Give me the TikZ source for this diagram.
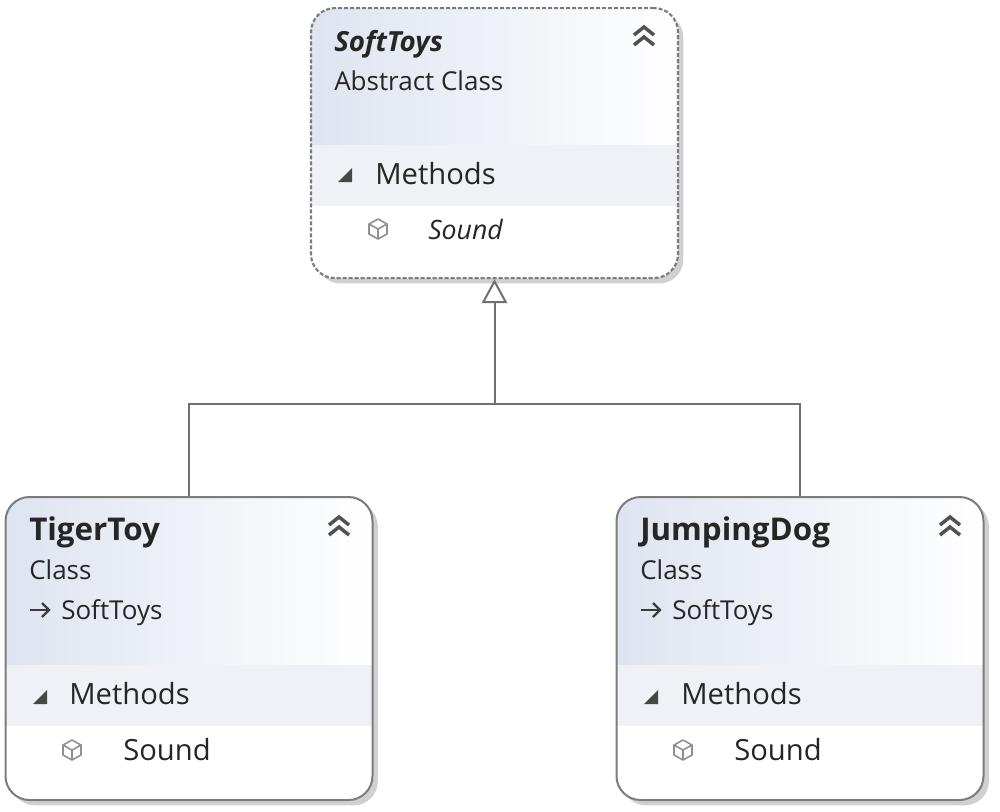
\documentclass[tikz,border=0pt]{standalone}
\usepackage{fontspec}
\setmainfont{Open Sans}
\usetikzlibrary{arrows.meta,shadows}
\definecolor{ink}{HTML}{262626}
\definecolor{edge}{HTML}{7C7C7C}
\definecolor{gradL}{HTML}{DEE4F0}
\definecolor{gradM}{HTML}{EEF1F7}
\definecolor{band}{HTML}{EFF1F7}
\definecolor{shadowc}{HTML}{D0D0D0}
\definecolor{iconc}{HTML}{8F8F8F}
\tikzset{
  x=0.75pt,y=-0.75pt,
  umlbox/.style={draw=edge,line width=1.5pt,rounded corners=18pt,minimum width=275.25pt,
    inner sep=0pt,fill=white,
    drop shadow={shadow xshift=4pt,shadow yshift=-4pt,fill=shadowc,opacity=1}},
  abstractbox/.style={umlbox,dash pattern=on 3pt off 1.5pt,line width=1.6pt},
  titletext/.style={anchor=base west,inner sep=0pt,text=ink,font=\fontsize{23.5}{26}\selectfont\bfseries},
  subtext/.style={anchor=base west,inner sep=0pt,text=ink,font=\fontsize{19.5}{22}\selectfont},
  membertext/.style={anchor=base west,inner sep=0pt,text=ink,font=\fontsize{21.9}{25}\selectfont},
  connector/.style={draw=edge!90!black,line width=1.5pt},
  inherit/.style={connector,-{Triangle[open,fill=white,length=18pt,width=19pt]}},
  chevron/.style={draw=ink!80,line width=2.6pt,line join=miter},
  cube/.style={draw=iconc,line width=1.2pt,line join=round},
  tri/.style={fill=ink!85,draw=none},
  smallarrow/.style={draw=ink!90,line width=1.8pt}
}
% #1 style, #2 name, #3 centre x, #4 top y, #5 height px, #6 header height px
\newcommand{\umlclass}[6]{%
  \node[#1,minimum height=#5*0.75pt,anchor=north,
    path picture={
      \shade[sharp corners,left color=gradL,middle color=gradM,right color=white]
        (path picture bounding box.north west) rectangle ([yshift=-#6*0.75pt]path picture bounding box.north east);
      \fill[sharp corners,band] ([yshift=-#6*0.75pt]path picture bounding box.north west) rectangle ([yshift=-#6*0.75pt-45.75pt]path picture bounding box.north east);
      \fill[sharp corners,white] ([yshift=-#6*0.75pt-45.75pt]path picture bounding box.north west) rectangle (path picture bounding box.south east);
    }] (#2) at (#3,#4) {};%
}
\newcommand{\chev}[2]{%
  \draw[chevron] (#1-10,#2-1) -- (#1,#2-9) -- (#1+10,#2-1);
  \draw[chevron] (#1-10,#2+9) -- (#1,#2+1) -- (#1+10,#2+9);
}
\newcommand{\cubeicon}[2]{%
  \draw[cube] (#1,#2-10) -- (#1+9,#2-5) -- (#1+9,#2+5) -- (#1,#2+10) -- (#1-9,#2+5) -- (#1-9,#2-5) -- cycle;
  \draw[cube] (#1-9,#2-5) -- (#1,#2) -- (#1+9,#2-5) (#1,#2) -- (#1,#2+10);
}
\newcommand{\tritoggle}[2]{%
  \fill[tri] (#1+7,#2-7) -- (#1+7,#2+7) -- (#1-7,#2+7) -- cycle;
}
\newcommand{\inhicon}[2]{%
  \draw[smallarrow] (#1-10,#2) -- (#1+8,#2);
  \draw[smallarrow] (#1+2,#2-7) -- (#1+9,#2) -- (#1+2,#2+7);
}
\begin{document}
\begin{tikzpicture}
\useasboundingbox (0,0) rectangle (1000,811);
\fill[white] (0,0) rectangle (1000,811);
\coordinate (junction) at (494.5,404);
\umlclass{abstractbox}{soft}{494.5}{7}{270}{137}
\umlclass{umlbox}{tiger}{189}{496}{303}{168}
\umlclass{umlbox}{dog}{800}{496}{303}{168}
\draw[connector] (tiger.north) |- (junction);
\draw[connector] (dog.north) |- (junction);
\draw[inherit] (junction) -- (soft.south);
% SoftToys
\node[titletext,font=\fontsize{20.8}{24}\selectfont\bfseries\itshape] (softname) at (334,51) {SoftToys};
\node[subtext] (softkind) at (334,90) {Abstract Class};
\node[membertext] (softmeth) at (375,184) {Methods};
\node[membertext,font=\fontsize{20}{24}\selectfont\itshape] (softsound) at (428,239) {Sound};
\chev{644}{36}
\tritoggle{345}{175}
\cubeicon{378}{229}
% TigerToy
\node[titletext] (tigername) at (29,540) {TigerToy};
\node[subtext] (tigerkind) at (29,579) {Class};
\node[subtext] (tigerbase) at (61,619) {SoftToys};
\node[membertext] (tigermeth) at (69,704) {Methods};
\node[membertext] (tigersound) at (123,760) {Sound};
\chev{339}{526}
\inhicon{40}{610}
\tritoggle{40}{697}
\cubeicon{72}{750}
% JumpingDog
\node[titletext] (dogname) at (640,540) {JumpingDog};
\node[subtext] (dogkind) at (640,579) {Class};
\node[subtext] (dogbase) at (672,619) {SoftToys};
\node[membertext] (dogmeth) at (681,704) {Methods};
\node[membertext] (dogsound) at (734,760) {Sound};
\chev{950}{526}
\inhicon{651}{610}
\tritoggle{651}{697}
\cubeicon{683}{750}
\end{tikzpicture}
\end{document}
